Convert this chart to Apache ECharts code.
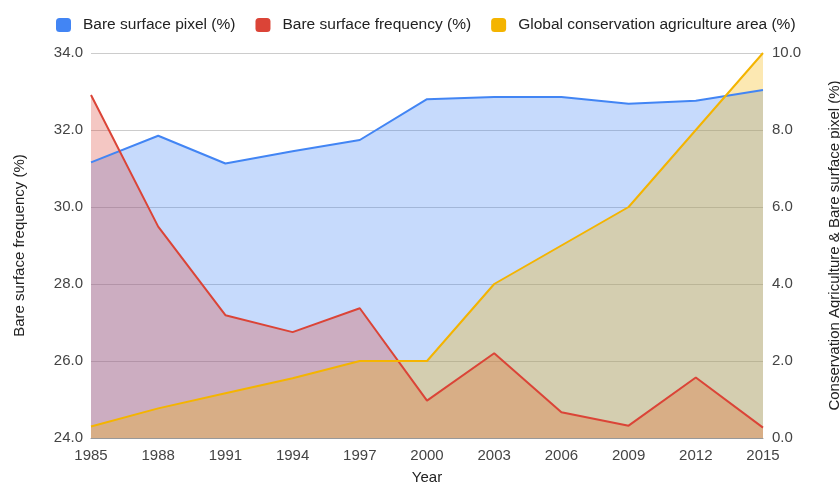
<!DOCTYPE html>
<html>
<head>
<meta charset="utf-8">
<script src="https://cdn.jsdelivr.net/npm/echarts@6/dist/echarts.min.js"></script>
<style>
  html, body { margin: 0; padding: 0; background: #fff; }
  #chart { width: 840px; height: 485px; }
</style>
</head>
<body>
<div id="chart"></div>
<script>
// Survey years on the category axis
const years = ['1985', '1988', '1991', '1994', '1997', '2000', '2003', '2006', '2009', '2012', '2015'];

// Bare surface pixel share (%), plotted on the right axis
const bareSurfacePixel = [7.16, 7.85, 7.13, 7.45, 7.74, 8.8, 8.86, 8.86, 8.68, 8.76, 9.04];

// Bare surface frequency (%), plotted on the left axis
const bareSurfaceFrequency = [32.91, 29.49, 27.19, 26.75, 27.37, 24.97, 26.2, 24.67, 24.32, 25.57, 24.27];

// Global conservation agriculture area (%), plotted on the right axis
const conservationArea = [0.3, 0.77, 1.16, 1.55, 2.0, 2.0, 4.0, 5.0, 6.0, 8.0, 10.0];

const FONT = 'Arial, "Liberation Sans", sans-serif';
const TEXT = '#444';

const chart = echarts.init(document.getElementById('chart'), null, { renderer: 'canvas' });

function areaSeries(name, data, color, axisIndex) {
  return {
    name: name,
    type: 'line',
    yAxisIndex: axisIndex,
    data: data,
    symbol: 'none',
    lineStyle: { color: color, width: 2 },
    itemStyle: { color: color },
    areaStyle: { color: color, opacity: 0.3, origin: 'start' },
    z: 2
  };
}

chart.setOption({
  animation: false,
  backgroundColor: '#fff',
  textStyle: { fontFamily: FONT },
  legend: {
    left: 51,
    top: 12,
    itemWidth: 15,
    itemHeight: 14,
    itemGap: 20,
    icon: 'roundRect',
    textStyle: { fontSize: 15.5, color: '#222', fontFamily: FONT, padding: [0, 0, 0, 7] },
    data: ['Bare surface pixel (%)', 'Bare surface frequency (%)', 'Global conservation agriculture area (%)']
  },
  grid: { left: 91, right: 77, top: 53, bottom: 47, containLabel: false, outerBoundsMode: 'none' },
  xAxis: {
    type: 'category',
    data: years,
    boundaryGap: false,
    name: 'Year',
    nameLocation: 'middle',
    nameGap: 32,
    nameTextStyle: { fontSize: 15, color: '#222', fontFamily: FONT },
    axisLine: { show: true, lineStyle: { color: '#999', width: 1 } },
    axisTick: { show: false },
    axisLabel: { fontSize: 15, color: TEXT, margin: 10, fontFamily: FONT },
    splitLine: { show: false }
  },
  yAxis: [
    {
      type: 'value',
      min: 24,
      max: 34,
      interval: 2,
      name: 'Bare surface frequency (%)',
      nameLocation: 'middle',
      nameGap: 64,
      nameTextStyle: { fontSize: 15, color: '#222', fontFamily: FONT },
      axisLine: { show: false },
      axisTick: { show: false },
      axisLabel: { fontSize: 15, color: TEXT, margin: 8, formatter: v => v.toFixed(1), fontFamily: FONT },
      splitLine: { lineStyle: { color: '#ccc', width: 1 } }
    },
    {
      type: 'value',
      min: 0,
      max: 10,
      interval: 2,
      name: 'Conservation Agriculture & Bare surface pixel (%)',
      nameLocation: 'middle',
      nameGap: 64,
      nameRotate: 90,
      nameTextStyle: { fontSize: 15, color: '#222', fontFamily: FONT },
      axisLine: { show: false },
      axisTick: { show: false },
      axisLabel: { fontSize: 15, color: TEXT, margin: 9, formatter: v => v.toFixed(1), fontFamily: FONT },
      splitLine: { show: false }
    }
  ],
  series: [
    areaSeries('Bare surface pixel (%)', bareSurfacePixel, '#4285F4', 1),
    areaSeries('Bare surface frequency (%)', bareSurfaceFrequency, '#DB4437', 0),
    areaSeries('Global conservation agriculture area (%)', conservationArea, '#F4B400', 1)
  ]
});
</script>
</body>
</html>
